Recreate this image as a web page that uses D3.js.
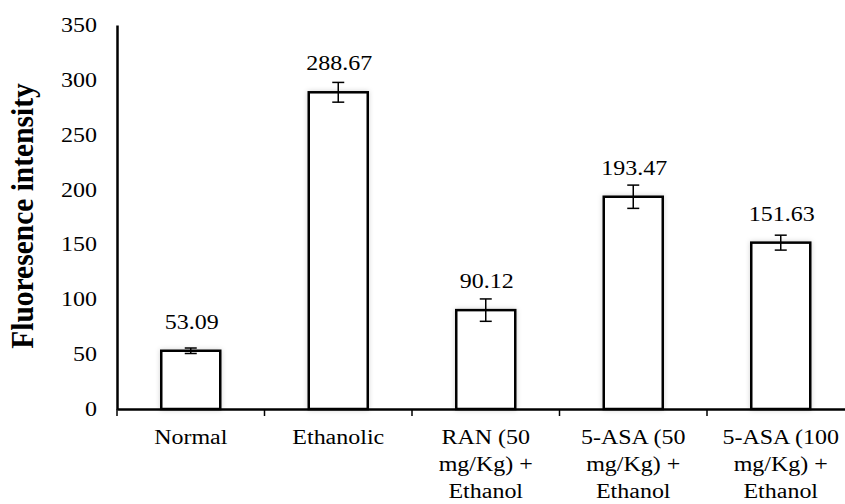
<!DOCTYPE html>
<html>
<head>
<meta charset="utf-8">
<script src="https://cdn.jsdelivr.net/npm/d3@7"></script>
<style>
  body { margin: 0; background: #fff; }
  text { font-family: "Liberation Serif", "Times New Roman", serif; fill: #000; }
</style>
</head>
<body>
<div id="chart"></div>
<script>
var categories = [
  ["Normal"],
  ["Ethanolic"],
  ["RAN (50", "mg/Kg) +", "Ethanol"],
  ["5-ASA (50", "mg/Kg) +", "Ethanol"],
  ["5-ASA (100", "mg/Kg) +", "Ethanol"]
];
var values = [53.09, 288.67, 90.12, 193.47, 151.63];
var errors = [2.5, 9, 10.2, 10.6, 6.8];
var yTicks = [0, 50, 100, 150, 200, 250, 300, 350];

var chart = {
  padding: {l: 117, t: 25, b: 95},
  w: 845,
  h: 504,
  sx: 1.17,      // the text in the picture is a bit wider than tall
  fs: 20.5,
  svg: null
};

chart.svg = d3.select('#chart').append('svg')
      .attr('width', chart.w)
      .attr('height', chart.h);

var defs = chart.svg.append('defs');
defs.append('filter')
    .attr('id', 'shadow')
    .attr('x', '-20%').attr('y', '-20%')
    .attr('width', '140%').attr('height', '140%')
  .append('feDropShadow')
    .attr('dx', 0).attr('dy', 0)
    .attr('stdDeviation', 2.5)
    .attr('flood-color', '#000')
    .attr('flood-opacity', 0.18);

var idx = d3.range(values.length);

var x_scale = d3.scaleBand()
      .domain(idx)
      .range([chart.padding.l, chart.padding.l + 5 * 147.5])
      .paddingInner(0.6)
      .paddingOuter(0.3);

var band = d3.scaleBand()
      .domain(idx)
      .range([chart.padding.l, chart.padding.l + 5 * 147.5]);

var y_scale = d3.scaleLinear()
      .domain([0, 350])
      .range([chart.h - chart.padding.b, chart.padding.t]);

function mid(d) { return band(d) + band.bandwidth() / 2; }
function tr(x, y) { return 'translate(' + x + ',' + y + ') scale(' + chart.sx + ',1)'; }

// bars
chart.svg.append('g')
    .attr('class', 'bars')
    .selectAll('rect')
    .data(idx)
    .enter()
    .append('rect')
      .attr('x', d => x_scale(d))
      .attr('y', d => y_scale(values[d]))
      .attr('width', x_scale.bandwidth())
      .attr('height', d => y_scale(0) - y_scale(values[d]))
      .attr('fill', '#fff')
      .attr('stroke', '#000')
      .attr('stroke-width', 2.5)
      .attr('filter', 'url(#shadow)');

// error bars
var cap = 6;
var eb = chart.svg.append('g').attr('class', 'errors')
    .selectAll('g').data(idx).enter().append('g');
eb.append('line')
    .attr('x1', mid).attr('x2', mid)
    .attr('y1', d => y_scale(values[d] + errors[d]))
    .attr('y2', d => y_scale(values[d] - errors[d]));
eb.append('line')
    .attr('x1', d => mid(d) - cap).attr('x2', d => mid(d) + cap)
    .attr('y1', d => y_scale(values[d] + errors[d]))
    .attr('y2', d => y_scale(values[d] + errors[d]));
eb.append('line')
    .attr('x1', d => mid(d) - cap).attr('x2', d => mid(d) + cap)
    .attr('y1', d => y_scale(values[d] - errors[d]))
    .attr('y2', d => y_scale(values[d] - errors[d]));
eb.selectAll('line').attr('stroke', '#000').attr('stroke-width', 1.5);

// value labels
chart.svg.append('g')
    .selectAll('text')
    .data(idx)
    .enter()
    .append('text')
      .attr('transform', d => tr(mid(d) + 1, y_scale(values[d]) - 22))
      .attr('text-anchor', 'middle')
      .style('font-size', chart.fs + 'px')
      .text(d => values[d].toFixed(2));

// axes
var y_axis = d3.axisLeft(y_scale).tickValues(yTicks).tickSize(0);
var x_axis = d3.axisBottom(band).tickSize(0).tickFormat('');

chart.svg.append('g')
    .attr('class', 'axis y')
    .attr('transform', 'translate(' + chart.padding.l + ',0)')
    .call(y_axis)
    .call(g => g.select('.domain').attr('stroke-width', 2.5))
    .call(g => g.selectAll('text')
        .attr('x', 0)
        .attr('transform', tr(-20, 0))
        .attr('font-family', null)
        .style('font-size', chart.fs + 'px'));

var xg = chart.svg.append('g')
    .attr('class', 'axis x')
    .attr('transform', 'translate(0,' + y_scale(0) + ')')
    .call(x_axis)
    .call(g => g.select('.domain').attr('stroke-width', 2.5));

// category boundary ticks
xg.selectAll('.bound')
    .data(d3.range(values.length + 1))
    .enter()
    .append('line')
      .attr('x1', d => band.range()[0] + d * band.step())
      .attr('x2', d => band.range()[0] + d * band.step())
      .attr('y1', 0)
      .attr('y2', 7)
      .attr('stroke', '#000')
      .attr('stroke-width', 1.5);

// category labels
var cl = chart.svg.append('g').selectAll('text')
    .data(idx).enter()
    .append('text')
      .attr('text-anchor', 'middle')
      .attr('transform', d => tr(mid(d), y_scale(0) + 35))
      .style('font-size', chart.fs + 'px');
cl.selectAll('tspan')
    .data(d => categories[d])
    .enter()
    .append('tspan')
      .attr('x', 0)
      .attr('dy', (d, i) => i === 0 ? 0 : 27)
      .text(d => d);

// y title
chart.svg.append('text')
    .attr('transform', 'translate(33,216) rotate(-90) scale(1,1.05)')
    .attr('text-anchor', 'middle')
    .style('font-size', '29.5px')
    .style('font-weight', 'bold')
    .text('Fluoresence intensity');
</script>
</body>
</html>
